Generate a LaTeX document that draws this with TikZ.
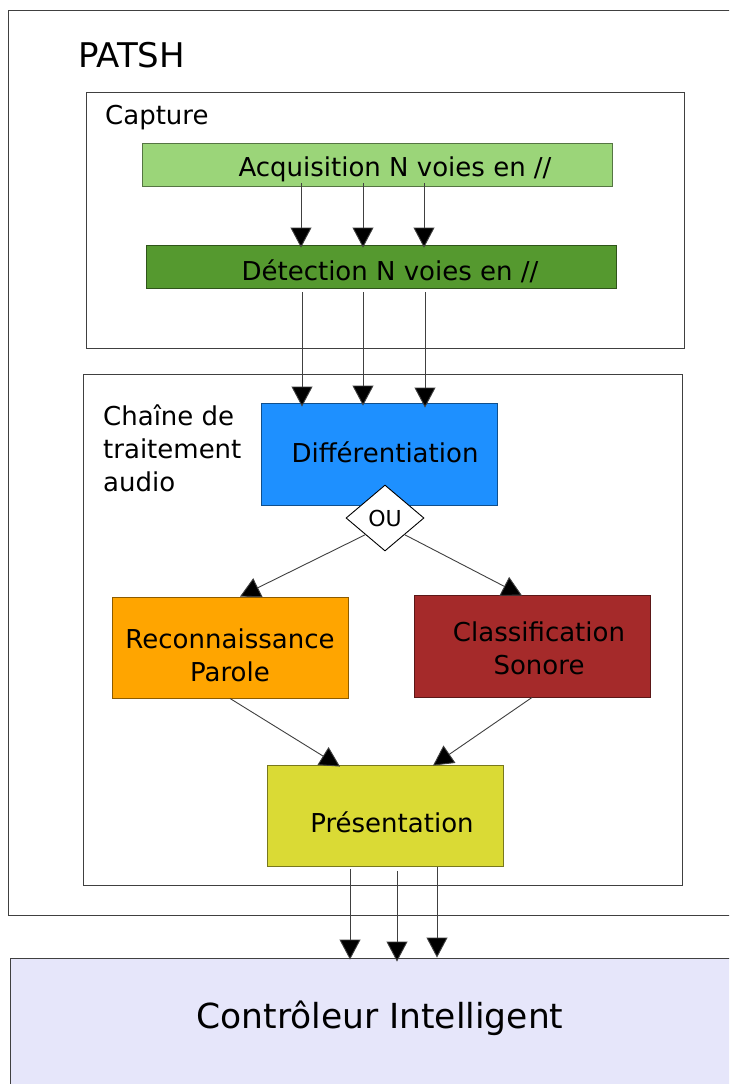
\documentclass[tikz,border=0pt]{standalone}
\usepackage{fontspec}
\setmainfont{DejaVu Sans}
\usetikzlibrary{arrows.meta,shapes.geometric,calc}
\definecolor{acqcol}{HTML}{9BD579}
\definecolor{detcol}{HTML}{55992F}
\definecolor{diffcol}{HTML}{1E90FF}
\definecolor{recocol}{HTML}{FFA500}
\definecolor{classcol}{HTML}{A52A2A}
\definecolor{prescol}{HTML}{DADA35}
\definecolor{ctrlcol}{HTML}{E6E6FA}
\definecolor{linecol}{HTML}{404040}
\tikzset{
  container/.style={draw=linecol, line width=0.9pt, fill=none, inner sep=0pt},
  blockbox/.style={draw=#1!55!black, fill=#1, line width=0.9pt, inner sep=0pt},
  txt/.style={font=\fontsize{26}{33}\selectfont, inner sep=0pt, align=center},
  arr/.style={draw=linecol, line width=0.9pt, -{Triangle[width=21pt,length=20pt,fill=black]}},
}
\begin{document}
\begin{tikzpicture}[x=1pt,y=-1pt]
\useasboundingbox (0,0) rectangle (729,1084);
\fill[white] (0,0) rectangle (729,1084);
\clip (0,0) rectangle (729,1084);

% containers
\node[container, minimum width=740pt, minimum height=905pt] (patsh) at (378,462.5) {};
\node[font=\fontsize{34}{40}\selectfont, inner sep=0pt, anchor=west] (patshlbl) at (78,55) {PATSH};

\node[container, minimum width=598pt, minimum height=256pt] (capture) at (385,220) {};
\node[txt, anchor=west] (capturelbl) at (105,118) {Capture};

\node[container, minimum width=599pt, minimum height=511pt] (chaine) at (382.5,629.5) {};
\node[txt, anchor=west, align=left] (chainelbl) at (103,448) {Chaîne de\\traitement\\audio};

% blocks
\node[blockbox=acqcol, minimum width=470pt, minimum height=43pt] (acq) at (377,164.5) {};
\node[txt] at (395,169) {Acquisition N voies en //};

\node[blockbox=detcol, minimum width=470pt, minimum height=43pt] (det) at (381,266.5) {};
\node[txt] at (390,271) {Détection N voies en //};

\node[blockbox=diffcol, minimum width=236pt, minimum height=102pt] (diff) at (379,454) {};
\node[txt] at (385,452) {Différentiation};

\node[draw=black, fill=white, line width=0.9pt, shape=diamond, minimum width=78pt, minimum height=66pt, inner sep=0pt, font=\fontsize{22}{26}\selectfont] (ou) at (385,518) {OU};

\node[blockbox=recocol, minimum width=236pt, minimum height=101pt] (reco) at (230,647.5) {};
\node[txt] at (230,655) {Reconnaissance\\Parole};

\node[blockbox=classcol, minimum width=236pt, minimum height=102pt] (classif) at (532,646) {};
\node[txt] at (539,648) {Classification\\Sonore};

\node[blockbox=prescol, minimum width=236pt, minimum height=101pt] (pres) at (385,815.5) {};
\node[txt] at (392,822) {Présentation};

\node[draw=linecol, fill=ctrlcol, line width=0.9pt, minimum width=730pt, minimum height=140pt, inner sep=0pt] (ctrl) at (375,1028) {};
\node[font=\fontsize{34.5}{40}\selectfont, inner sep=0pt] at (380,1018) {Contrôleur Intelligent};

% connectors
\draw[arr] ([xshift=-76pt,yshift=3pt]acq.south) -- ([xshift=-80pt,yshift=-3pt]det.north);
\draw[arr] ([xshift=-14pt,yshift=3pt]acq.south) -- ([xshift=-18pt,yshift=-3pt]det.north);
\draw[arr] ([xshift=47pt,yshift=3pt]acq.south) -- ([xshift=43pt,yshift=-3pt]det.north);

\draw[arr] ([xshift=-79pt,yshift=-4pt]det.south) -- ([xshift=-77pt,yshift=-4pt]diff.north);
\draw[arr] ([xshift=-18pt,yshift=-4pt]det.south) -- ([xshift=-16pt,yshift=-3pt]diff.north);
\draw[arr] ([xshift=44pt,yshift=-4pt]det.south) -- ([xshift=46pt,yshift=-5pt]diff.north);

\draw[arr] (ou.south west) -- ([xshift=10pt]reco.north);
\draw[arr] (ou.south east) -- ([xshift=-10pt,yshift=-1pt]classif.north);

\draw[arr] (reco.south) -- ([xshift=-45pt,yshift=-2pt]pres.north);
\draw[arr] (classif.south) -- ([xshift=48pt,yshift=-1pt]pres.north);

\draw[arr] ([xshift=-35pt,yshift=-3pt]pres.south) -- ([xshift=-25pt,yshift=-2pt]ctrl.north);
\draw[arr] ([xshift=12pt,yshift=-5pt]pres.south) -- ([xshift=22pt,yshift=-4pt]ctrl.north);
\draw[arr] ([xshift=52pt,yshift=-1pt]pres.south) -- ([xshift=62pt]ctrl.north);
\end{tikzpicture}
\end{document}
